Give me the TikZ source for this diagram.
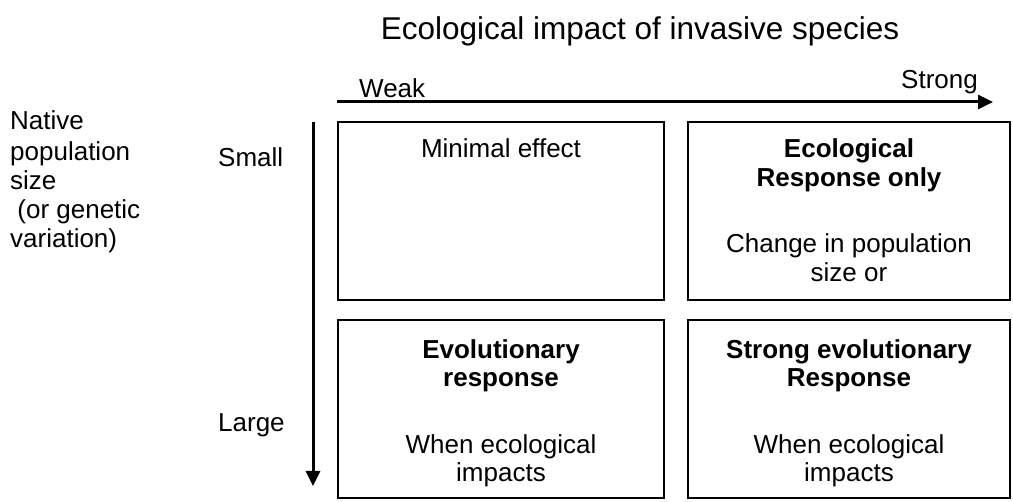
\documentclass[tikz,border=0pt]{standalone}
\usepackage{fontspec}
\setmainfont{Liberation Sans}
\usetikzlibrary{arrows.meta}
\tikzset{
  cellbox/.style={draw=black, line width=1.5pt, fill=none},
  axisarrow/.style={line width=3pt, -{Triangle[length=15pt,width=14pt]}},
  bodytext/.style={inner sep=0pt, anchor=base, font=\fontsize{26}{28}\selectfont},
  boldtext/.style={bodytext, font=\fontsize{26}{28}\selectfont\bfseries},
  lefttext/.style={inner sep=0pt, anchor=base west, font=\fontsize{26}{28}\selectfont},
  titletext/.style={inner sep=0pt, anchor=base, font=\fontsize{31.5}{36}\selectfont}
}
\begin{document}
\begin{tikzpicture}[x=1pt,y=-1pt]
\useasboundingbox (0,0) rectangle (1013,502);
% title
\node[titletext] (title) at (640,40) {Ecological impact of invasive species};
% horizontal axis
\coordinate (hstart) at (337,102);
\coordinate (hend) at (993,102);
\draw[axisarrow] (hstart) -- (hend);
\node[lefttext] (weak) at (359,98) {Weak};
\node[lefttext, anchor=base east] (strong) at (978,89) {Strong};
% vertical axis
\coordinate (vstart) at (313,122);
\coordinate (vend) at (313,486);
\draw[axisarrow] (vstart) -- (vend);
\node[lefttext] (small) at (218,167) {Small};
\node[lefttext] (large) at (218,432) {Large};
% left label
\node[lefttext] (l1) at (10,130) {Native};
\node[lefttext] (l2) at (10,161) {population};
\node[lefttext] (l3) at (10,190) {size};
\node[lefttext] (l4) at (10,219) {\ (or genetic};
\node[lefttext] (l5) at (10,248) {variation)};
% boxes
\draw[cellbox] (338,122) rectangle (664,300);
\draw[cellbox] (688,122) rectangle (1010,300);
\draw[cellbox] (338,320) rectangle (664,498);
\draw[cellbox] (688,320) rectangle (1010,498);
% top-left
\node[bodytext] (tl1) at (501,158) {Minimal effect};
% top-right
\node[boldtext] (tr1) at (849,158) {Ecological};
\node[boldtext] (tr2) at (849,187) {Response only};
\node[bodytext] (tr3) at (849,253) {Change in population};
\node[bodytext] (tr4) at (849,282) {size or};
% bottom-left
\node[boldtext] (bl1) at (501,359) {Evolutionary};
\node[boldtext] (bl2) at (501,387) {response};
\node[bodytext] (bl3) at (501,454) {When ecological};
\node[bodytext] (bl4) at (501,482) {impacts};
% bottom-right
\node[boldtext] (br1) at (849,359) {Strong evolutionary};
\node[boldtext] (br2) at (849,387) {Response};
\node[bodytext] (br3) at (849,454) {When ecological};
\node[bodytext] (br4) at (849,482) {impacts};
\end{tikzpicture}
\end{document}
